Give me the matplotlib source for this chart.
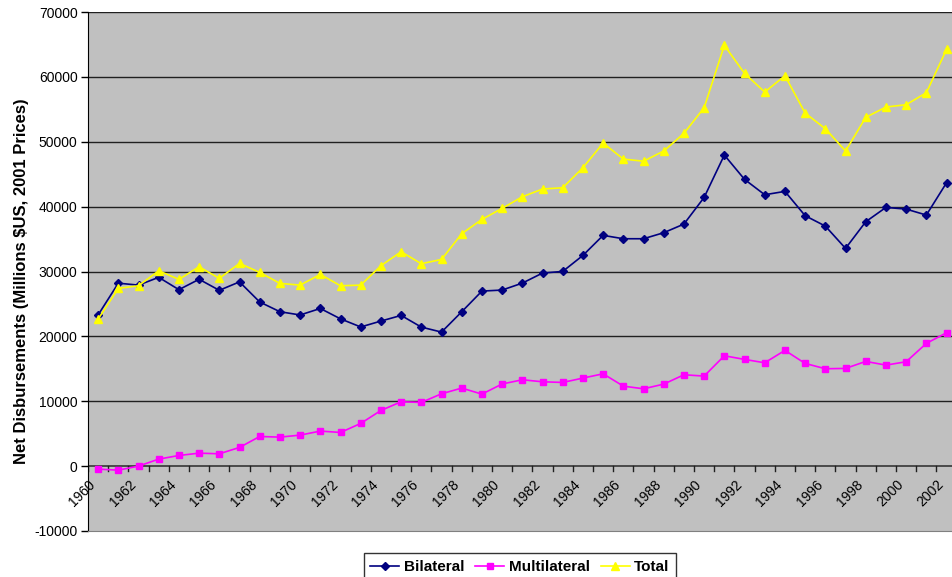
import matplotlib
matplotlib.use("Agg")
import matplotlib.pyplot as plt
import matplotlib.transforms as mtransforms
import numpy as np

plt.rcParams['font.family'] = ['Liberation Sans', 'DejaVu Sans']

# Years on the category axis
years = list(range(1960, 2003))

# Net disbursements, millions $US (2001 prices)
bilateral = [23300, 28200, 27900, 29100, 27200, 28800, 27100, 28400, 25300, 23800,
             23300, 24300, 22700, 21450, 22360, 23230, 21430, 20660, 23790, 26980,
             27140, 28210, 29760, 30010, 32480, 35570, 35050, 35050, 35980, 37310,
             41420, 47950, 44200, 41830, 42350, 38600, 37000, 33560, 37670, 39880,
             39620, 38700, 43680]
multilateral = [-460, -620, 0, 1080, 1640, 2000, 1900, 2880, 4570, 4470,
                4780, 5400, 5190, 6580, 8580, 9920, 9820, 11150, 12030, 11100,
                12660, 13310, 13000, 12900, 13570, 14230, 12330, 11920, 12640, 14080,
                13880, 17010, 16450, 15930, 17840, 15830, 15010, 15060, 16140, 15570,
                16090, 18920, 20560]
total = [22660, 27400, 27800, 30110, 28780, 30730, 28940, 31250, 29860, 28170,
         27900, 29550, 27800, 27900, 30890, 33050, 31200, 31860, 35820, 38030,
         39730, 41520, 42710, 42910, 46000, 49800, 47330, 47000, 48570, 51290,
         55250, 64860, 60540, 57660, 60180, 54420, 52010, 48570, 53760, 55350,
         55710, 57560, 64240]

x = np.arange(len(years))

fig = plt.figure(figsize=(9.52, 5.77), dpi=100)
ax = fig.add_axes([88/952, 46/577, 864/952, 519/577])
ax.set_facecolor('#C0C0C0')

# Gridlines
for v in range(10000, 70001, 10000):
    ax.axhline(v, color='#202020', lw=1.0, zorder=1)
ax.axhline(0, color='#404040', lw=1.3, zorder=2)

ax.plot(x, bilateral, color='#000080', marker='D', markersize=4.5, lw=1.2,
        label='Bilateral', zorder=3)
ax.plot(x, multilateral, color='#FF00FF', marker='s', markersize=5, lw=1.2,
        label='Multilateral', zorder=3)
ax.plot(x, total, color='#FFFF00', marker='^', markersize=6, lw=1.2,
        label='Total', zorder=4)

ax.set_xlim(-0.5, 42.27)
ax.set_ylim(-10000, 70000)

# y axis
ax.set_yticks(range(-10000, 70001, 10000))
ax.set_yticklabels([str(v) for v in range(-10000, 70001, 10000)], fontsize=10)
ax.tick_params(axis='y', direction='out', length=5, width=1, pad=2.5, colors='black')
ax.set_ylabel('Net Disbursements (Millions $US, 2001 Prices)', fontsize=12,
              fontweight='bold')
ax.yaxis.set_label_coords(-0.068, 0.482)

# x axis: ticks at category boundaries on the zero line
ax.set_xticks([])
for b in np.arange(-0.5, 43, 1.0):
    ax.plot([b, b], [0, -700], color='#202020', lw=1, zorder=2, clip_on=True)

off = mtransforms.offset_copy(ax.transData, fig=fig, x=0, y=-11, units='dots')
for i, yr in enumerate(years):
    if yr % 2 == 0:
        ax.text(i, 0, str(yr), transform=off, rotation=45, ha='right', va='top',
                fontsize=10)

for side in ['top', 'right']:
    ax.spines[side].set_visible(False)
ax.spines['left'].set_color('black')
ax.spines['bottom'].set_color('#808080')

leg = ax.legend(loc='upper center', bbox_to_anchor=(0.5, -0.0424), ncol=3,
                frameon=True, fancybox=False, edgecolor='black',
                prop={'weight': 'bold', 'size': 11}, handlelength=1.9,
                columnspacing=0.7, handletextpad=0.3, borderpad=0.45,
                borderaxespad=0)
leg.get_frame().set_linewidth(1.0)

fig.savefig('out.png', dpi=100)
